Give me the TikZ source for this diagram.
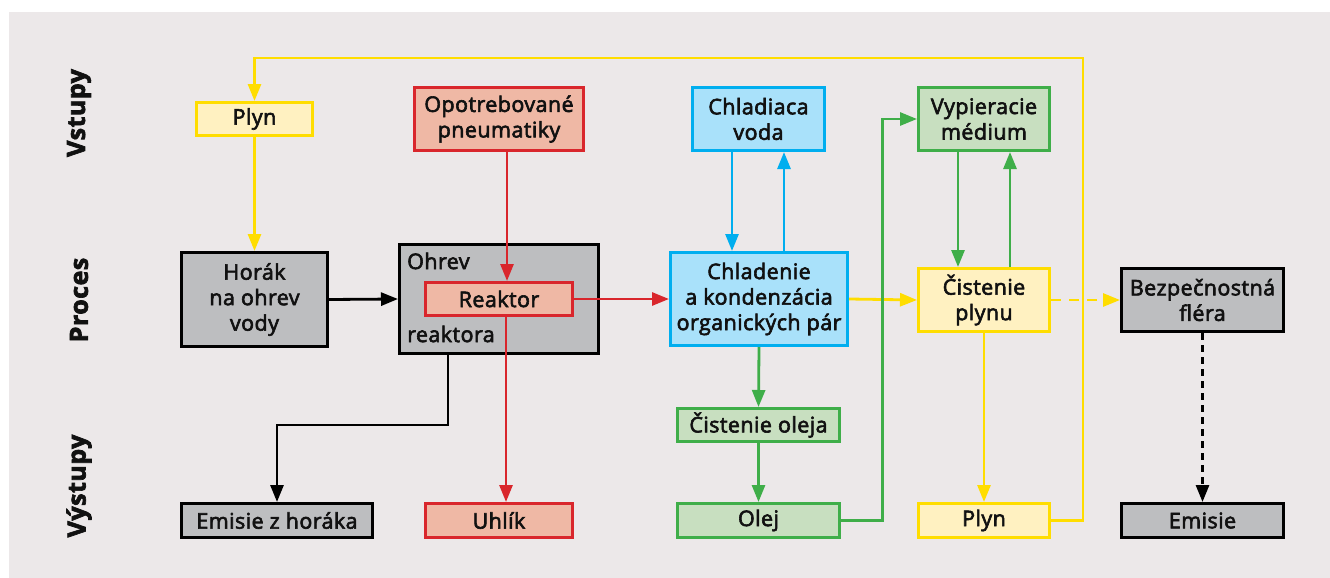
\documentclass[tikz,border=0pt]{standalone}
\usepackage{fontspec}
\setmainfont{Open Sans}[FakeBold=2.8, LetterSpace=2]
\usetikzlibrary{arrows.meta}
\definecolor{bg}{HTML}{ECE8E9}
\definecolor{ylw}{HTML}{FFDD00}
\definecolor{ylwfill}{HTML}{FFF1C1}
\definecolor{rd}{HTML}{D9262C}
\definecolor{rdfill}{HTML}{EFB8A5}
\definecolor{bl}{HTML}{00AEEF}
\definecolor{blfill}{HTML}{A9E1FA}
\definecolor{gr}{HTML}{3FAE49}
\definecolor{grfill}{HTML}{C8DFC0}
\definecolor{gyfill}{HTML}{BDBEC0}
\definecolor{txt}{HTML}{111111}
\tikzset{
  box/.style={draw, line width=3pt, align=center, inner sep=0pt, text=txt,
    font=\fontsize{21.5}{25.5}\selectfont},
  ybox/.style={box, draw=ylw, fill=ylwfill},
  rbox/.style={box, draw=rd, fill=rdfill},
  bbox/.style={box, draw=bl, fill=blfill},
  gbox/.style={box, draw=gr, fill=grfill},
  kbox/.style={box, draw=black, fill=gyfill},
  conn/.style={line width=2.8pt, -{Triangle[length=17pt,width=13pt]}},
  yconn/.style={conn, draw=ylw},
  rconn/.style={conn, draw=rd},
  bconn/.style={conn, draw=bl},
  gconn/.style={conn, draw=gr},
  kconn/.style={conn, draw=black},
  rowlab/.style={rotate=90, text=txt, font=\bfseries\fontsize{25}{28}\selectfont},
  plain/.style={text=txt, inner sep=0pt, font=\fontsize{21.5}{25.5}\selectfont},
}
\begin{document}
\begin{tikzpicture}[x=1pt,y=-1pt]
\useasboundingbox (0,0) rectangle (1330,578);
\fill[bg] (9,12) rectangle (1330,578);

% row labels
\node[rowlab] (lin) at (79,113) {Vstupy};
\node[rowlab] (lproc) at (79,300) {Proces};
\node[rowlab] (lout) at (79,486) {Výstupy};

% inputs
\node[ybox, minimum width=116pt, minimum height=33pt] (plynin) at (254.5,119) {Plyn};
\node[rbox, minimum width=169pt, minimum height=63pt] (pneu) at (499,119) {Opotrebované\\pneumatiky};
\node[bbox, minimum width=132pt, minimum height=63pt] (chvoda) at (758.5,119) {Chladiaca\\voda};
\node[gbox, minimum width=131pt, minimum height=63pt] (vyp) at (984,119) {Vypieracie\\médium};

% process
\node[kbox, minimum width=146pt, minimum height=94pt] (horak) at (254.5,299.5) {Horák\\na ohrev\\vody};
\node[kbox, minimum width=199pt, minimum height=109pt] (ohrev) at (499,299) {};
\node[plain, anchor=west] (ohrevt) at (407,261) {Ohrev};
\node[plain, anchor=west] (reaktorat) at (407,334) {reaktora};
\node[rbox, minimum width=147pt, minimum height=33pt] (reaktor) at (499,299) {Reaktor};
\node[bbox, minimum width=177pt, minimum height=93pt] (chlad) at (759,299) {Chladenie\\a kondenzácia\\organických pár};
\node[ybox, minimum width=131pt, minimum height=63pt] (cisplyn) at (984,300) {Čistenie\\plynu};
\node[kbox, minimum width=162pt, minimum height=63pt] (flera) at (1202.5,300) {Bezpečnostná\\fléra};
\node[gbox, minimum width=162pt, minimum height=33pt] (cisolej) at (758.5,425) {Čistenie oleja};

% outputs
\node[kbox, minimum width=191pt, minimum height=34pt] (emisiez) at (277,520.5) {Emisie z horáka};
\node[rbox, minimum width=147pt, minimum height=34pt] (uhlik) at (499,520.5) {Uhlík};
\node[gbox, minimum width=162pt, minimum height=34pt] (olej) at (758.5,520.5) {Olej};
\node[ybox, minimum width=131pt, minimum height=34pt] (plynout) at (984,520.5) {Plyn};
\node[kbox, minimum width=162pt, minimum height=34pt] (emisie) at (1202.5,520.5) {Emisie};

% coordinates
\coordinate (ytop) at (1083,58);
\coordinate (kb) at (448,425);
\coordinate (gx) at (882.5,0);

% connectors
\draw[yconn] (plynin.south) -- (horak.north);
\draw[yconn] (plynout.east) -| (ytop) -| (plynin.north);
\draw[rconn] ([xshift=8pt]pneu.south) -- ([xshift=8pt]pneu.south |- reaktor.north);
\draw[kconn] (horak.east) -- (ohrev.west);
\draw[rconn] ([xshift=7pt]reaktor.south) -- ([xshift=7pt]reaktor.south |- uhlik.north);
\draw[rconn] (reaktor.east) -- (chlad.west);
\draw[kconn] (kb |- ohrev.south) -- (kb) -| (emisiez.north);
\draw[bconn] ([xshift=-26.5pt]chvoda.south) -- ([xshift=-26.5pt]chvoda.south |- chlad.north);
\draw[bconn] ([xshift=25.5pt]chvoda.south |- chlad.north) -- ([xshift=25.5pt]chvoda.south);
\draw[yconn] (chlad.east) -- (cisplyn.west);
\draw[yconn, dash pattern=on 10pt off 8pt] (cisplyn.east) -- (flera.west);
\draw[yconn] (cisplyn.south) -- (plynout.north);
\draw[gconn] (chlad.south) -- (cisolej.north);
\draw[gconn] (cisolej.south) -- (olej.north);
\draw[gconn] (olej.east) -| (gx |- vyp.west) -- (vyp.west);
\draw[gconn] ([xshift=-26pt]vyp.south) -- ([xshift=-26pt]vyp.south |- cisplyn.north);
\draw[gconn] ([xshift=26pt]vyp.south |- cisplyn.north) -- ([xshift=26pt]vyp.south);
\draw[kconn, dash pattern=on 7pt off 5pt] (flera.south) -- (emisie.north);
\end{tikzpicture}
\end{document}
